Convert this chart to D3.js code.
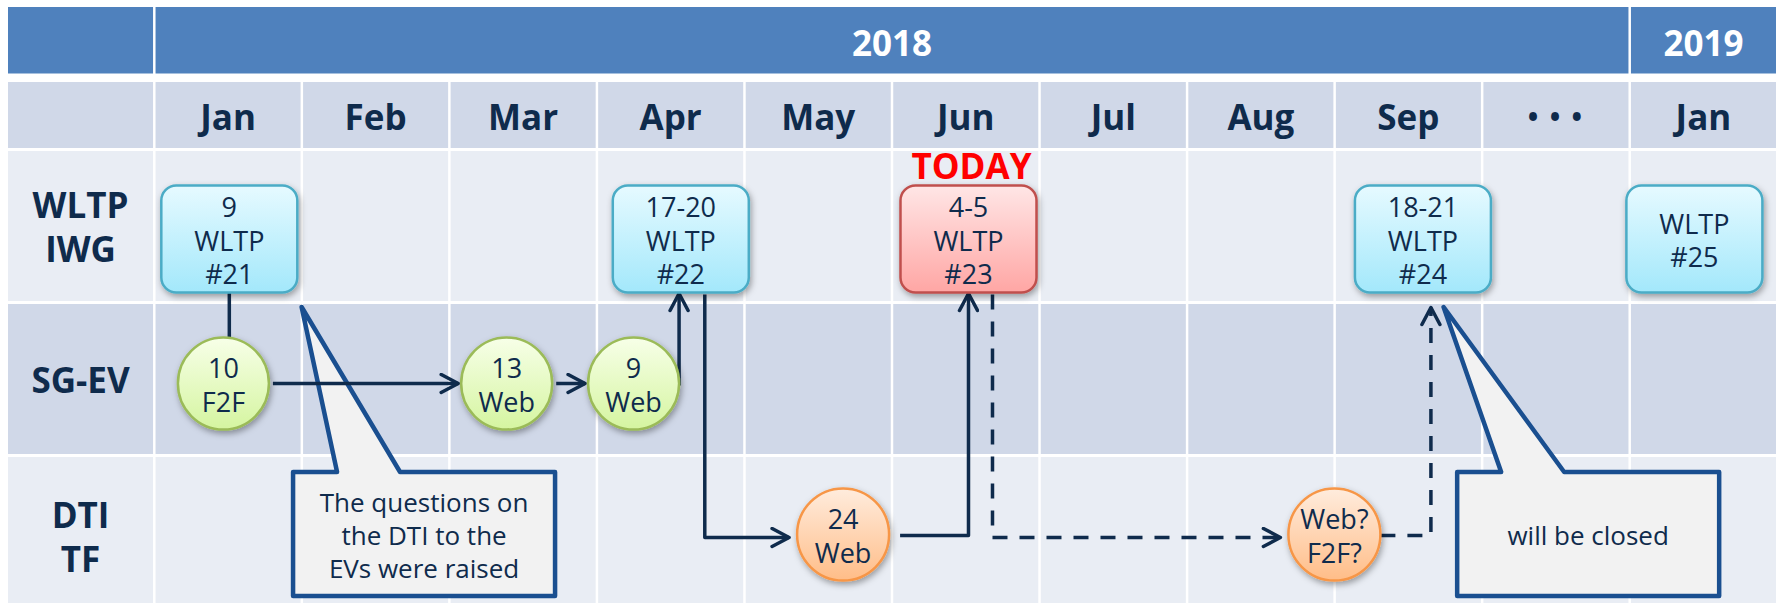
<!DOCTYPE html>
<html>
<head>
<meta charset="utf-8">
<script src="https://cdn.jsdelivr.net/npm/d3@7"></script>
<style>
  html, body { margin: 0; padding: 0; background: #fff; }
  svg { display: block; font-family: "Open Sans", "Noto Sans", sans-serif; }
</style>
</head>
<body>
<svg id="chart"></svg>
<script>
// --- data ---
const months = ["Jan", "Feb", "Mar", "Apr", "May", "Jun", "Jul", "Aug", "Sep", "• • •", "Jan"];
const yearLabels = ["2018", "2019"];
const yearSpans = [10, 1];               // how many month columns each year covers
const rowLabels = [["WLTP", "IWG"], ["SG-EV"], ["DTI", "TF"]];

// WLTP IWG meetings (position in month units, 0 = start of Jan 2018)
const wltpIds = ["w21", "w22", "w23", "w24", "w25"];
const wltpAt = [0.5, 3.56, 5.51, 8.59, 10.43];
const wltpText = [["9", "WLTP", "#21"], ["17-20", "WLTP", "#22"], ["4-5", "WLTP", "#23"], ["18-21", "WLTP", "#24"], ["WLTP", "#25"]];
const todayId = "w23";

// SG-EV meetings
const sgIds = ["s10", "s13", "s9"];
const sgAt = [0.46, 2.38, 3.24];
const sgText = [["10", "F2F"], ["13", "Web"], ["9", "Web"]];

// DTI TF meetings
const dtiIds = ["d24", "dq"];
const dtiAt = [4.66, 7.99];
const dtiText = [["24", "Web"], ["Web?", "F2F?"]];

// flow between meetings
const links = [
    {from: "w21", to: "s10", route: "down"},
    {from: "s10", to: "s13", route: "across", arrow: true},
    {from: "s13", to: "s9", route: "across", arrow: true},
    {from: "s9", to: "w22", route: "up", arrow: true},
    {from: "w22", to: "d24", route: "down-across", arrow: true},
    {from: "d24", to: "w23", route: "across-up", arrow: true},
    {from: "w23", to: "dq", route: "down-across", arrow: true, dashed: true},
    {from: "dq", to: "w24", route: "across-up", arrow: true, dashed: true}
];

// callouts
const calloutText = [["The questions on", "the DTI to the", "EVs were raised"], ["will be closed"]];
const calloutAt = [1.82, 9.71];
const calloutTipAt = [0.99, 8.73];

// --- layout ---
const width = 1779, height = 603;
const navy = "#0F2B4C";
const svg = d3.select("#chart").attr("width", width).attr("height", height);

const xBand = d3.scaleBand()
    .domain(d3.range(-1, months.length))
    .range([8, 1776])
    .paddingInner(0.0169);
const step = xBand.step();
const xAt = v => {
    const i = Math.floor(v);
    return xBand(i) + (v - i) * step;
};

const yRow = d3.scaleBand()
    .domain(d3.range(rowLabels.length))
    .range([151, 607])
    .paddingInner(3 / 153);

const header = {top: 7, bottom: 73.5};
const monthRow = {top: 82, bottom: 148};

const defs = svg.append("defs");
function grad(id, top, bottom) {
    const g = defs.append("linearGradient").attr("id", id)
        .attr("x1", 0).attr("y1", 0).attr("x2", 0).attr("y2", 1);
    g.append("stop").attr("offset", "0%").attr("stop-color", top);
    g.append("stop").attr("offset", "100%").attr("stop-color", bottom);
}
grad("gCyan", "#E6FAFF", "#A3E8FB");
grad("gRed", "#FFE6E6", "#FFA6A4");
grad("gGreen", "#F7FFE8", "#D5F5A0");
grad("gOrange", "#FFECDD", "#FFBD88");

const shadow = defs.append("filter").attr("id", "shadow")
    .attr("x", "-20%").attr("y", "-20%").attr("width", "150%").attr("height", "150%");
shadow.append("feDropShadow").attr("dx", 1.5).attr("dy", 3).attr("stdDeviation", 3)
    .attr("flood-color", "#000").attr("flood-opacity", 0.35);

defs.append("marker").attr("id", "arrow")
    .attr("viewBox", "0 0 22 22").attr("refX", 19).attr("refY", 11)
    .attr("markerWidth", 22).attr("markerHeight", 22)
    .attr("markerUnits", "userSpaceOnUse").attr("orient", "auto")
    .append("path").attr("d", "M2,2 L19,11 L2,20")
    .attr("fill", "none").attr("stroke", navy).attr("stroke-width", 3.5)
    .attr("stroke-linecap", "round").attr("stroke-linejoin", "round");

// --- table grid ---
const grid = svg.append("g");
const bw = xBand.bandwidth();

// year header
grid.append("rect").attr("x", xBand(-1)).attr("y", header.top)
    .attr("width", bw).attr("height", header.bottom - header.top).attr("fill", "#4F81BD");
let startCol = 0;
yearLabels.forEach((label, i) => {
    const x0 = xBand(startCol);
    const x1 = xBand(startCol + yearSpans[i] - 1) + bw;
    grid.append("rect").attr("x", x0).attr("y", header.top)
        .attr("width", x1 - x0).attr("height", header.bottom - header.top).attr("fill", "#4F81BD");
    grid.append("text").attr("x", (x0 + x1) / 2).attr("y", (header.top + header.bottom) / 2 + 2)
        .attr("text-anchor", "middle").attr("dominant-baseline", "central")
        .attr("fill", "#fff").attr("font-weight", "bold").attr("font-size", 35)
        .text(label);
    startCol += yearSpans[i];
});

// month row
grid.selectAll(".mcell").data(d3.range(-1, months.length)).enter()
    .append("rect")
    .attr("x", d => xBand(d)).attr("y", monthRow.top)
    .attr("width", bw).attr("height", monthRow.bottom - monthRow.top)
    .attr("fill", "#D0D8E8");
grid.selectAll(".mlabel").data(months).enter()
    .append("text")
    .attr("x", (d, i) => xBand(i) + bw / 2)
    .attr("y", (monthRow.top + monthRow.bottom) / 2 + 1)
    .attr("text-anchor", "middle").attr("dominant-baseline", "central")
    .attr("fill", navy).attr("font-weight", "bold")
    .attr("font-size", (d, i) => i === 9 ? 28 : 35)
    .attr("letter-spacing", (d, i) => i === 9 ? 2 : null)
    .text(d => d);

// body rows
rowLabels.forEach((lines, r) => {
    grid.selectAll(".cell" + r).data(d3.range(-1, months.length)).enter()
        .append("rect")
        .attr("x", d => xBand(d)).attr("y", yRow(r))
        .attr("width", bw).attr("height", yRow.bandwidth())
        .attr("fill", r % 2 === 0 ? "#E9EDF4" : "#D0D8E8");
    const cy = yRow(r) + yRow.bandwidth() / 2 + (r === 2 ? 4 : 0);
    lines.forEach((t, k) => {
        grid.append("text")
            .attr("x", xBand(-1) + bw / 2)
            .attr("y", cy + (k - (lines.length - 1) / 2) * 44)
            .attr("text-anchor", "middle").attr("dominant-baseline", "central")
            .attr("fill", navy).attr("font-weight", "bold").attr("font-size", 35)
            .text(t);
    });
});

// --- nodes ---
const nodes = {};
const rowMid = r => yRow(r) + yRow.bandwidth() / 2;
wltpIds.forEach((id, i) => {
    nodes[id] = {x: xAt(wltpAt[i]), y: rowMid(0) + 13, hw: 68, hh: 53.5, shape: "box",
        fill: id === todayId ? "url(#gRed)" : "url(#gCyan)",
        stroke: id === todayId ? "#C0504D" : "#4BACC6", lines: wltpText[i]};
});
sgIds.forEach((id, i) => {
    nodes[id] = {x: xAt(sgAt[i]), y: rowMid(1) + 4.5, hw: 45.5, hh: 46, shape: "ellipse",
        fill: "url(#gGreen)", stroke: "#9BBB59", lines: sgText[i]};
});
dtiIds.forEach((id, i) => {
    nodes[id] = {x: xAt(dtiAt[i]), y: rowMid(2) + 2.5, hw: 46, hh: 46, shape: "ellipse",
        fill: "url(#gOrange)", stroke: "#F79646", lines: dtiText[i]};
});

// --- callouts ---
const callG = svg.append("g");
calloutText.forEach((lines, i) => {
    const cx = xAt(calloutAt[i]);
    const x0 = cx - 131, x1 = cx + 131;
    const y0 = yRow(2) + 15, y1 = y0 + 124;
    const tipX = xAt(calloutTipAt[i]), tipY = yRow(1) + 3;
    const path = d3.path();
    path.moveTo(x0, y0);
    path.lineTo(x0 + 44, y0);
    path.lineTo(tipX, tipY);
    path.lineTo(x0 + 107, y0);
    path.lineTo(x1, y0);
    path.lineTo(x1, y1);
    path.lineTo(x0, y1);
    path.closePath();
    callG.append("path").attr("d", path.toString())
        .attr("fill", "#F2F2F2").attr("stroke", "#1A4F90").attr("stroke-width", 4.5)
        .attr("stroke-linejoin", "round");
    const cy = (y0 + y1) / 2 + 1;
    lines.forEach((t, k) => {
        callG.append("text").attr("x", cx)
            .attr("y", cy + (k - (lines.length - 1) / 2) * 33)
            .attr("text-anchor", "middle").attr("dominant-baseline", "central")
            .attr("fill", navy).attr("font-size", 26)
            .text(t);
    });
});

// --- connectors ---
function linkPoints(l) {
    const a = nodes[l.from], b = nodes[l.to];
    if (l.route === "down") return [[a.x, a.y + a.hh], [a.x, b.y - b.hh]];
    if (l.route === "across") return [[a.x + a.hw + 4, a.y], [b.x - b.hw - 3, b.y]];
    if (l.route === "up") return [[a.x + a.hw, a.y + 2], [a.x + a.hw, b.y + b.hh + 1]];
    if (l.route === "down-across") {
        const sx = a.x + 24, hy = b.y + 3;
        return [[sx, a.y + a.hh + 2], [sx, hy], [b.x - b.hw - 8, hy]];
    }
    if (l.route === "across-up") {
        const vx = b.x + (l.dashed ? 8 : 0);
        const ey = b.y + b.hh + (l.dashed ? 15 : 1);
        return [[a.x + a.hw + (l.dashed ? 0 : 11), a.y + 1], [vx, a.y + 1], [vx, ey]];
    }
}
const line = d3.line();
svg.append("g").selectAll("path").data(links).enter()
    .append("path")
    .attr("d", d => line(linkPoints(d)))
    .attr("fill", "none").attr("stroke", navy).attr("stroke-width", 3.5)
    .attr("stroke-linejoin", "round")
    .attr("stroke-dasharray", d => d.dashed ? "15,12" : null)
    .attr("marker-end", d => d.arrow ? "url(#arrow)" : null);

// --- meeting shapes ---
const nodeG = svg.append("g").selectAll("g").data(Object.values(nodes)).enter()
    .append("g").attr("transform", d => `translate(${d.x},${d.y})`);
nodeG.filter(d => d.shape === "box").append("rect")
    .attr("x", d => -d.hw).attr("y", d => -d.hh)
    .attr("width", d => d.hw * 2).attr("height", d => d.hh * 2)
    .attr("rx", 15).attr("ry", 15)
    .attr("fill", d => d.fill).attr("stroke", d => d.stroke).attr("stroke-width", 2.5)
    .attr("filter", "url(#shadow)");
nodeG.filter(d => d.shape === "ellipse").append("ellipse")
    .attr("rx", d => d.hw).attr("ry", d => d.hh)
    .attr("fill", d => d.fill).attr("stroke", d => d.stroke).attr("stroke-width", 2.5)
    .attr("filter", "url(#shadow)");
nodeG.each(function(d) {
    const sp = d.shape === "box" ? 33.5 : 34;
    d.lines.forEach((t, k) => {
        d3.select(this).append("text")
            .attr("x", 0).attr("y", (k - (d.lines.length - 1) / 2) * sp + 1)
            .attr("text-anchor", "middle").attr("dominant-baseline", "central")
            .attr("fill", navy).attr("font-size", 27)
            .text(t);
    });
});

// TODAY marker
const today = nodes[todayId];
svg.append("text").attr("x", today.x + 3).attr("y", today.y - today.hh - 7)
    .attr("text-anchor", "middle")
    .attr("fill", "#FF0000").attr("font-weight", "bold").attr("font-size", 35)
    .text("TODAY");
</script>
</body>
</html>
